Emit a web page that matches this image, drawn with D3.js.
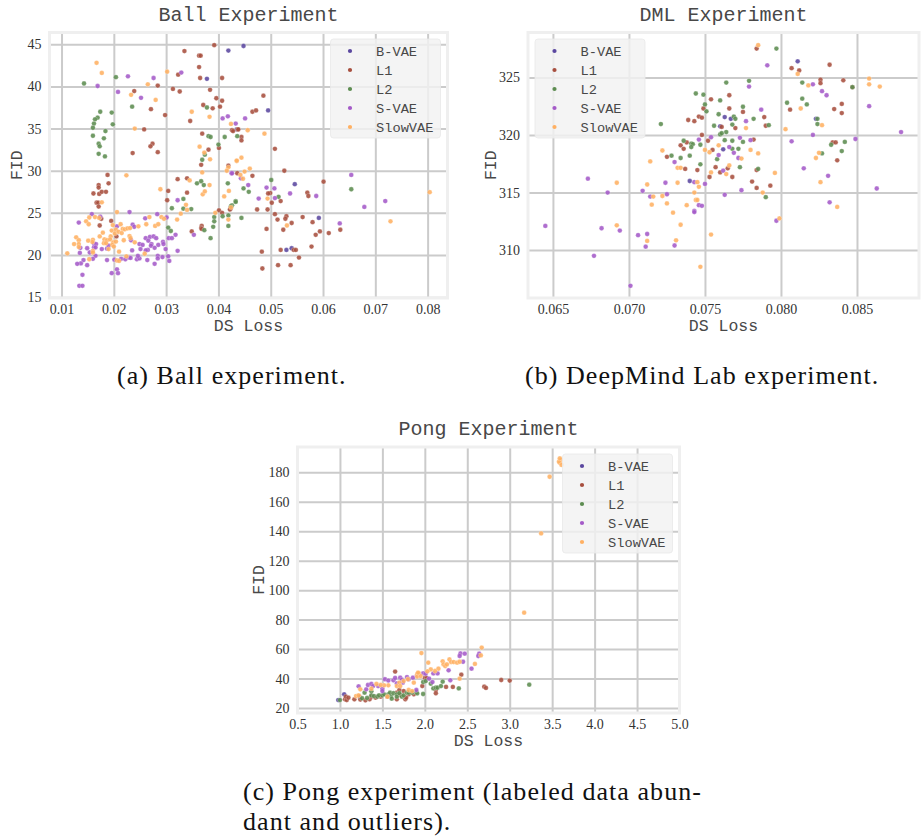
<!DOCTYPE html>
<html>
<head>
<meta charset="utf-8">
<script src="https://cdn.jsdelivr.net/npm/d3@7"></script>
<style>
    body { margin: 0; background: #fff; }
    text { fill: #484848; }
    .caption { font-family: "Liberation Serif", serif; font-size: 26px; letter-spacing: 1.05px; fill: #111; }
    .title { font-family: "Liberation Mono", monospace; font-size: 20px; }
    .axlabel { font-family: "Liberation Mono", monospace; font-size: 16.5px; }
    .legtext { font-family: "Liberation Mono", monospace; font-size: 13.7px; }
    .tick text { font-family: "Liberation Serif", serif; font-size: 14px; fill: #333; }
</style>
</head>
<body>
<script>
const w = 921;
const h = 836;

const seriesNames = ["B-VAE", "L1", "L2", "S-VAE", "SlowVAE"];
const seriesColors = ["#5a479f", "#a74e3e", "#5c8c50", "#a45ac8", "#ffb062"];

// Ball experiment, each point is [DS loss, FID]
const ballXTicks = [0.01, 0.02, 0.03, 0.04, 0.05, 0.06, 0.07, 0.08];
const ballYTicks = [15, 20, 25, 30, 35, 40, 45];
const ballBvae = [[.0419,44.25],[.0448,44.8],[.0378,40.9],[.0495,37.15],[.0435,34.9],[.0546,28.4],[.0592,24.4],[.053,20.6],[.054,20.8]];
const ballL1 = [[.0392,44.9],[.0335,44.2],[.0363,43.65],[.0366,43.65],[.0363,42.3],[.0323,41.4],[.0365,41],[.0407,41],[.0284,40.1],[.0239,39.45],[.0313,39.7],[.0326,39.4],[.0384,39.6],[.0396,38.6],[.0407,38.3],[.0371,37.8],[.0389,37.4],[.0403,37.6],[.0271,37.3],[.0298,36.6],[.0346,35.9],[.0437,34.9],[.0258,34.9],[.0369,34.4],[.0274,33.2],[.027,32.9],[.0381,32.5],[.0401,32.7],[.0284,32.2],[.0236,32.1],[.0367,30.7],[.0419,30.6],[.0436,29.7],[.0188,29.5],
    [.0322,29],[.034,29.1],[.019,28.5],[.0171,28.3],[.0171,28],[.0161,27.3],[.0172,27.25],[.0177,27.5],[.0185,27.5],[.0304,27.6],[.034,27.4],[.0302,26.5],[.0167,26.2],[.017,26.2],[.0171,25.75],[.0401,25.3],[.0407,25],[.0423,25.5],[.0176,24.3],[.0195,24.05],[.0173,23.5],[.0205,22.2],[.0349,22.8],[.0368,23.45],[.0367,23.2],[.0368,23.1],
    [.0486,38.9],[.0465,37],[.0472,37.15],[.0426,34.8],[.0428,34.7],[.0438,34.9],[.0444,34],[.0444,33.6],[.0508,32.6],[.0526,30],[.0465,29.4],[.0601,28.7],[.057,27.4],[.0572,27],[.0499,27.35],[.0495,27.3],[.0519,26.4],[.0502,26.2],[.0474,25.4],[.0494,25.4],[.0424,25.6],[.0422,25.4],[.0508,24.85],[.053,24.6],[.0528,24.3],[.0513,24.2],[.054,23.8],[.0561,24.5],[.058,23.9],[.0492,23.1],[.0524,23],[.0594,22.8],[.0586,22.4],[.0611,22.6],[.0633,23],[.0578,21],[.0483,20.4],[.0519,20.6],[.0544,20.6],[.0548,20.6],[.0554,19.7],[.0484,18.4],[.0514,18.8],[.0538,18.8]];
const ballL2 = [[.0143,40.35],[.0204,41.1],[.0235,37.6],[.0174,37],[.0196,36.9],[.0169,36.3],[.0164,36.1],[.0162,35.6],[.016,35.1],[.0198,35.5],[.0184,34.7],[.016,34.15],[.0181,33.85],[.0171,33.2],[.0173,32.9],[.0171,32],[.0183,31.7],[.0378,37.5],[.0381,34.1],[.0385,34],[.0412,34],[.0436,34.1],[.04,33.1],[.0374,31.9],[.0369,31.3],
    [.0359,28.5],[.0367,28.75],[.0372,28.3],[.0418,28.5],[.0333,26.65],[.0311,25.55],[.0333,25.5],[.0348,25.45],[.0433,26.4],[.0426,25.9],[.0392,24.5],[.0392,24],[.0408,24.6],[.0419,24.7],[.039,23.35],[.0419,23.45],[.0304,23.25],[.0309,22.85],[.0373,22.95],[.0385,22],
    [.0501,28.9],[.0448,27.9],[.0458,27.5],[.0515,26.9],[.0433,26.3],[.0424,25.8],[.0444,24.4],[.0654,27.8]];
const ballSvae = [[.0169,40.05],[.0208,39.35],[.0227,41.2],[.0276,41],[.0252,38.65],[.0329,41.65],[.0408,36.2],[.0418,36.45],[.0433,35.6],[.0425,29.7],
    [.0133,23.85],[.0158,24.85],[.0174,24.55],[.023,25.1],[.026,24.35],[.0283,24.85],[.0301,24.45],[.0322,26.5],[.0206,23.4],[.0236,23.6],[.0239,23.35],[.0233,21.75],[.0249,21.3],[.0255,21.2],[.0261,22],[.0269,22.15],[.0276,22.2],[.0281,22],[.0266,21.7],[.0272,21.3],[.0271,21.1],[.0285,21.2],[.0294,21.55],[.0295,21.3],[.0278,20.85],[.0265,20.6],[.0261,20.55],[.0251,20.7],[.0235,20.55],[.0299,20.7],[.0322,20.5],[.0318,22.4],[.0305,22],[.0311,22],[.0353,22.4],[.0154,20.3],[.0135,20.25],[.0136,20.85],[.0149,20.8],[.0162,21.35],[.0166,21.3],[.0162,20.9],[.0165,20.9],[.0177,20.7],[.0187,20.75],[.019,21.1],[.0165,19.9],[.016,19.55],[.0142,19.4],[.0137,19],[.013,18.95],[.0149,18.8],[.0187,19.4],[.0201,19.45],[.0214,19.55],[.0222,19.5],[.0229,19.7],[.0232,19.65],[.0244,19.5],[.0249,19.6],[.0246,19.9],[.0264,19.4],[.0284,19.9],[.0284,19.6],[.0293,19.75],[.0304,19.85],[.0306,19.3],[.0278,18.95],[.0206,18.3],[.0196,17.85],[.0208,17.85],[.014,17.65],[.0134,16.35],[.014,16.35],
    [.0451,36.2],[.0426,29.7],[.0443,29.1],[.0457,28.3],[.0492,28],[.0507,27.9],[.0537,27.3],[.0477,26.7],[.0508,26.75],[.0587,27],[.0632,23.75],[.0654,29.5],[.0679,25.7],[.0719,26.4]];
const ballSlow = [[.0167,42.8],[.0177,41.6],[.0302,41.75],[.0265,40.25],[.0233,39],[.028,38.4],[.0349,37],[.0383,36.4],[.024,35],[.0364,32.85],[.0373,32.15],[.0384,31.35],[.0435,31.15],[.0369,29.8],[.0419,30.4],[.0416,30],[.0224,29.45],
    [.0345,28.85],[.0383,28.3],[.0289,27.8],[.037,27.2],[.0374,27.55],[.0411,26.95],[.042,27.6],[.0177,26.25],[.0338,25.95],[.034,25.35],[.0206,25.1],[.0328,24.9],[.0394,25],[.0424,25.65],[.0419,24.2],[.0321,24.2],[.0153,24.45],[.0164,24.5],[.0172,24.4],[.0268,24.5],[.0291,24.5],[.0296,24.3],[.0147,24],[.0152,23.65],[.0198,23.55],[.0213,23.65],[.0262,23.65],[.0279,23.45],[.0285,23.65],[.0247,23.4],[.0196,22.9],[.0204,23],[.0202,22.55],[.0209,22.75],[.0217,23.1],[.0221,23.05],[.0226,23.15],[.0231,23.2],[.0215,22.6],[.0179,22.65],[.0173,22.2],[.0194,22.2],[.023,22.25],[.0232,22],[.0219,21.75],[.024,21.5],[.0128,22.1],[.0133,21.75],[.016,21.8],[.0159,21.55],[.0151,21.7],[.0124,21.3],[.0133,21.3],[.0133,20.95],[.0182,21.85],[.0187,21.75],[.0193,21.85],[.0181,21.4],[.0185,21.4],[.0199,21.5],[.0204,21.6],[.0197,21.2],[.02,21],[.019,20.7],[.021,20.4],[.016,20.5],[.016,20.3],[.0111,20.2],[.0153,19.5],[.0206,19.35],[.021,19.3],[.0224,19.85],[.0259,20.15],
    [.0424,35.55],[.0456,34.8],[.0488,34.4],[.0444,31.55],[.0435,31.2],[.046,30.25],[.045,29.9],[.0442,29.5],[.0447,29.05],[.0494,26.7],[.0531,23.5],[.0729,24],[.0804,27.45]];

// DML experiment
const dmlXTicks = [0.065, 0.07, 0.075, 0.08, 0.085];
const dmlYTicks = [310, 315, 320, 325];
const dmlBvae = [[.0811,326.4],[.0763,321.55],[.0767,321.4],[.076,320.75],[.0823,321.4],[.0762,318.75],[.074,316]];
const dmlL1 = [[.0784,327.5],[.0807,325.8],[.0812,325.6],[.0832,326.1],[.0826,324.8],[.0826,324.5],[.0841,324.75],[.0847,324.15],[.084,322.7],[.0835,322.25],[.084,321.9],[.0806,322.2],[.0766,323.45],[.0754,323.1],[.0749,322.3],[.0766,322.3],[.0775,322],[.0789,321.55],[.0746,321.6],[.0748,321.5],[.0743,321.2],[.0739,321.3],[.0761,320.7],[.077,320.6],[.079,320.8],[.0748,320],[.0782,319.6],[.0752,319.5],[.0755,318.7],[.0834,319.35],[.0836,319.35],[.0837,317.8],[.0757,317.2],[.0745,316.95],[.076,316.75],[.0765,317.1],[.0753,316.35],[.0768,316.35],[.0784,316.95],[.0781,315.95],[.0784,315.4],[.0793,315.6],[.0738,319.35],[.0734,319.1],[.0736,318.8],[.0725,318.1],[.0737,317.05]];
const dmlL2 = [[.0797,327.5],[.0764,324.55],[.0779,324.7],[.0814,324.55],[.0847,324.15],[.0744,323.6],[.0749,323.5],[.076,323],[.075,322.65],[.0751,322.05],[.0775,322.45],[.0759,321.8],[.0804,322.8],[.0814,323.15],[.0817,322.65],[.0824,321.4],[.0824,320.95],[.0782,321.4],[.0769,321.6],[.077,321.4],[.0768,320.9],[.0756,320.8],[.0792,320.85],[.0764,320.25],[.076,320.05],[.0761,320.15],[.0763,319.55],[.0768,319.5],[.0775,319.4],[.0741,319.25],[.0742,319.2],[.0741,318.95],[.0747,319.15],[.0768,318.8],[.0772,318.8],[.0842,319.4],[.0833,319.15],[.0827,318.4],[.084,318.6],[.0758,317.9],[.0747,317.45],[.0773,317.2],[.0785,317.05],[.074,318.2],[.079,314.6],[.0721,320.95],[.0736,319.5],[.0728,318.2],[.0734,318]];
const dmlSvae = [[.0791,326.05],[.0779,324.2],[.0821,324.4],[.0827,323.8],[.083,323.45],[.0858,322.5],[.0787,322.2],[.0777,321.2],[.0821,320],[.0879,320.25],[.0849,319.65],[.0807,319.45],[.0746,319.6],[.0754,319.8],[.0773,319.75],[.078,319.55],[.0766,318.95],[.0769,318.45],[.0759,318.25],[.0772,318],[.0815,317.1],[.0762,316.9],[.0831,316.45],[.075,315.75],[.0743,315.9],[.0763,314.8],[.0774,315.2],[.0863,315.35],[.0832,314.15],[.0746,313.9],[.0748,313.85],[.0743,313.4],[.0797,312.55],[.073,317.65],[.0673,316.2],[.0686,315],[.0709,315.15],[.0714,314.65],[.0724,315.85],[.0725,314.85],[.0743,313.3],[.0645,312.1],[.0682,311.9],[.0694,311.7],[.0706,311.3],[.0712,311.4],[.0711,310.3],[.073,310.4],[.0677,309.5],[.0701,306.9]];
const dmlSlow = [[.0785,327.8],[.0811,325.3],[.0818,324.3],[.0858,324.9],[.0858,324.4],[.0865,324.2],[.0813,322.3],[.0827,320.85],[.0803,320.5],[.0777,320.6],[.0759,319.1],[.075,318.7],[.0753,318.5],[.078,318.7],[.0785,318.4],[.0774,317.95],[.0766,317.35],[.0754,316.75],[.0764,316.6],[.0796,316.7],[.0825,318.45],[.0823,318],[.0826,315.9],[.0745,315.9],[.0746,315.5],[.0743,315],[.0744,314.35],[.0788,315],[.0754,311.35],[.0799,312.75],[.0837,313.75],[.0747,308.55],[.0722,318.65],[.0714,317.7],[.0732,317.15],[.0734,317.15],[.0692,315.85],[.0712,315.7],[.0732,315.85],[.0716,314.65],[.0722,314.7],[.0745,314.35],[.0715,313.95],[.0725,314.05],[.0738,313.9],[.0729,313.25],[.0734,312.2],[.0692,312.15],[.0712,310.8],[.0731,310.85]];

// Pong experiment
const pongXTicks = [0.5, 1, 1.5, 2, 2.5, 3, 3.5, 4, 4.5, 5];
const pongYTicks = [20, 40, 60, 80, 100, 120, 140, 160, 180];
const pongBvae = [[.98,25.4],[1.05,29.3]];
const pongL1 = [[1.65,44.7],[1.97,34.9],[2,40.4],[2.02,40.4],[2.25,34.3],[2.33,34.3],[2.43,42.6],[2.13,32.2],[2.13,30],[2.7,34.5],[2.72,33.6],[2.9,39],[3,38.6],[1.77,25.9],[1.06,25.9],[1.08,25.4],[1.07,27.7],[1.1,27],[1.17,25.9],[1.23,27.7],[1.24,25.7],[1.3,25.2],[1.35,25.9],[1.37,27.7],[1.42,27],[1.48,27.7],[1.56,27.7],[1.67,30.4],[1.71,28.8],[1.75,31.5],[1.81,29.3],[1.78,27],[1.87,29.3],[1.67,25.9],[1.7,32.2]];
const pongL2 = [[1,25.4],[1.29,30.4],[1.37,31.3],[1.26,26.6],[1.32,26.8],[1.37,28.6],[1.4,28.1],[1.44,27.7],[1.46,28.6],[1.5,28.6],[1.52,29.3],[1.57,29.3],[1.6,28.1],[1.61,26.3],[1.59,30.4],[1.63,30],[1.67,29.3],[1.67,27.7],[1.7,30],[1.73,27.7],[1.75,28.6],[1.79,30.4],[1.81,30.4],[1.85,30.4],[1.9,30.9],[1.91,29.9],[1.98,29.5],[1.98,37.6],[2.01,38.3],[2.07,36.5],[2.1,33.3],[2.13,33.8],[2.15,33.8],[2.19,34.9],[2.21,37.9],[2.4,33.3],[3.23,35.8]];
const pongSvae = [[1.22,34.7],[1.31,32.7],[1.33,35.6],[1.37,36.3],[1.39,34.9],[1.45,34.9],[1.5,33.1],[1.5,31.5],[1.53,39.5],[1.57,38.6],[1.63,38.8],[1.65,40.4],[1.71,40.6],[1.73,39.2],[1.67,36.7],[1.74,37.2],[1.79,41],[1.81,39.5],[1.86,40.6],[1.9,32.2],[1.91,42.2],[1.98,43.5],[2.01,43.3],[2.05,39.9],[2.09,37.6],[2.1,43.5],[2.15,43.5],[2.28,45.6],[2.3,38.8],[2.42,57],[2.47,56.9],[2.41,55.3],[2.45,51.4],[2.55,46.7],[2.64,56.9],[2.63,55.3]];
const pongSlow = [[1.96,57.3],[2.04,50.8],[2.67,61],[2.66,55.7],[2.59,49.9],[2.41,39.9],[2.21,51.7],[2.29,53],[2.22,49.6],[2.24,48.5],[2.26,49.6],[2.31,51.2],[2.34,51.2],[2.38,50.8],[2.41,51.4],[2.16,46.7],[2.12,45.1],[2.07,46.2],[2.03,44.9],[1.91,42.9],[1.93,43.5],[1.91,41.3],[1.95,41.7],[1.92,44],[1.8,39.5],[1.87,37.2],[1.75,38.3],[1.7,37.2],[1.67,34.9],[1.71,34.9],[1.57,35.4],[1.52,35.4],[1.48,35.6],[1.43,36.3],[1.24,32.7],[1.19,28.1],[1.37,33.1],[1.81,32.2],[1.85,31.5],[1.56,27.7],[1.22,28.6],[3.6,188.3],[3.59,186.5],[3.58,187.2],[3.61,185],[3.59,189.5],[3.47,177],[3.37,138.5],[3.17,84.7]];

//Create SVG element
let svg = d3.select("body")
    .append("svg")
    .attr("width", w)
    .attr("height", h);

function scatter(c) {
    let x = d3.scaleLinear().domain(c.xDomain).range([c.left, c.right]);
    let y = d3.scaleLinear().domain(c.yDomain).range([c.bottom, c.top]);
    let g = svg.append("g");

    // grid lines come from the axis ticks
    let xAxis = g.append("g")
        .attr("transform", "translate(0," + c.bottom + ")")
        .call(d3.axisBottom(x).tickValues(c.xTicks).tickFormat(d3.format(c.xFormat))
            .tickSize(-(c.bottom - c.top)).tickPadding(6));
    let yAxis = g.append("g")
        .attr("transform", "translate(" + c.left + ",0)")
        .call(d3.axisLeft(y).tickValues(c.yTicks).tickFormat(d3.format("d"))
            .tickSize(-(c.right - c.left)).tickPadding(8));
    [xAxis, yAxis].forEach(a => {
        a.select(".domain").remove();
        a.selectAll("line").style("stroke", "#cbcbcb").style("stroke-width", 2);
    });

    c.series.forEach((rows, i) => {
        g.append("g").selectAll("circle")
            .data(rows)
            .enter()
            .append("circle")
            .attr("cx", d => x(d[0]))
            .attr("cy", d => y(d[1]))
            .attr("r", 2.4)
            .style("fill", seriesColors[i])
            .style("fill-opacity", 0.88)
            .style("stroke", "#fff")
            .style("stroke-opacity", 0.5)
            .style("stroke-width", 0.5);
    });

    g.append("rect")
        .attr("x", c.left)
        .attr("y", c.top)
        .attr("width", c.right - c.left)
        .attr("height", c.bottom - c.top)
        .style("fill", "none")
        .style("stroke", "#efefef")
        .style("stroke-width", 3);

    g.append("text").attr("class", "title")
        .attr("x", (c.left + c.right) / 2).attr("y", c.top - 12)
        .attr("text-anchor", "middle").text(c.title);
    g.append("text").attr("class", "axlabel")
        .attr("x", (c.left + c.right) / 2).attr("y", c.bottom + 33)
        .attr("text-anchor", "middle").text("DS Loss");
    g.append("text").attr("class", "axlabel")
        .attr("transform", "translate(" + (c.left - c.labelGap) + "," + (c.top + c.bottom) / 2 + ") rotate(-90)")
        .attr("text-anchor", "middle").text("FID");

    // legend
    let leg = g.append("g").attr("transform", "translate(" + c.legX + "," + c.legY + ")");
    leg.append("rect")
        .attr("width", 110).attr("height", 99).attr("rx", 3)
        .style("fill", "#f2f2f2").style("fill-opacity", 0.82)
        .style("stroke", "#e8e8e8").style("stroke-opacity", 0.8);
    seriesNames.forEach((name, i) => {
        leg.append("circle")
            .attr("cx", 19.5).attr("cy", 12 + i * 19)
            .attr("r", 2.1)
            .style("fill", seriesColors[i]);
        leg.append("text").attr("class", "legtext")
            .attr("x", 45.5).attr("y", 16.5 + i * 19)
            .text(name);
    });
}

scatter({
    title: "Ball Experiment",
    left: 49.5, right: 447.5, top: 32.5, bottom: 298, labelGap: 28,
    xDomain: [0.0077, 0.0838], yDomain: [14.9, 46.4],
    xTicks: ballXTicks, yTicks: ballYTicks, xFormat: ".2f",
    series: [ballBvae, ballL1, ballL2, ballSvae, ballSlow],
    legX: 330.5, legY: 39
});

scatter({
    title: "DML Experiment",
    left: 528, right: 919, top: 32.5, bottom: 298, labelGap: 32,
    xDomain: [0.06336, 0.08908], yDomain: [305.84, 328.9],
    xTicks: dmlXTicks, yTicks: dmlYTicks, xFormat: ".3f",
    series: [dmlBvae, dmlL1, dmlL2, dmlSvae, dmlSlow],
    legX: 535, legY: 39
});

scatter({
    title: "Pong Experiment",
    left: 297.5, right: 679.5, top: 447, bottom: 713, labelGap: 34,
    xDomain: [0.5, 5], yDomain: [16.6, 197.2],
    xTicks: pongXTicks, yTicks: pongYTicks, xFormat: ".1f",
    series: [pongBvae, pongL1, pongL2, pongSvae, pongSlow],
    legX: 562.5, legY: 454
});

// subfigure captions
const captions = [
    ["(a) Ball experiment.", 117, 384],
    ["(b) DeepMind Lab experiment.", 525, 384],
    ["(c) Pong experiment (labeled data abun-", 243, 800],
    ["dant and outliers).", 243, 830]
];
svg.selectAll(".caption")
    .data(captions)
    .enter()
    .append("text")
    .attr("class", "caption")
    .attr("x", d => d[1])
    .attr("y", d => d[2])
    .text(d => d[0]);
</script>
</body>
</html>
